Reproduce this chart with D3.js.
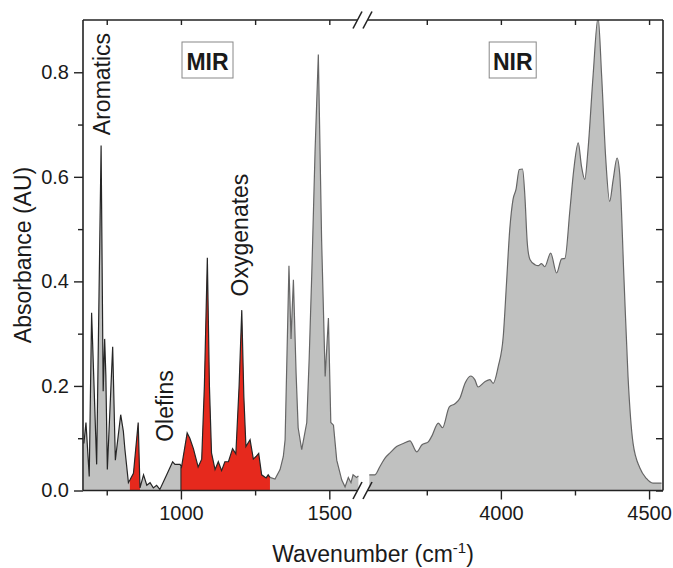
<!DOCTYPE html>
<html>
<head>
<meta charset="utf-8">
<script src="https://cdn.jsdelivr.net/npm/d3@7"></script>
<style>
body { margin: 0; background: #fff; }
text { font-family: "Liberation Sans", Arial, sans-serif; fill: #1a1a1a; }
</style>
</head>
<body>
<div id="chart"></div>
<script>

// mid-IR part of the spectrum (left of the axis break)
var mirWavenumber = [673, 680, 691, 699, 716, 731, 738, 743, 747, 752, 770, 779, 797, 806, 811, 823,
	828, 840, 856, 862, 874, 885, 896, 907, 918, 929, 952, 972, 980, 997,
	1002, 1021, 1030, 1042, 1058, 1070, 1079, 1089, 1096, 1103, 1115, 1126, 1137, 1148, 1160,
	1174, 1185, 1196, 1205, 1212, 1219, 1233, 1244, 1253, 1262, 1272, 1287, 1294, 1300,
	1317, 1334, 1345, 1351, 1356, 1364, 1371, 1379, 1388, 1395, 1407, 1424, 1432, 1441,
	1452, 1463, 1474, 1486, 1497, 1505, 1514, 1525, 1542, 1553, 1564, 1573, 1580, 1592, 1598];
var mirAbsorbance = [0.09, 0.13, 0.027, 0.34, 0.05, 0.66, 0.19, 0.29, 0.22, 0.04, 0.275, 0.058, 0.145, 0.113, 0.08, 0.015,
	0.02, 0.033, 0.13, 0.005, 0.03, 0.01, 0.015, 0.005, 0.01, 0.002, 0.03, 0.055, 0.05, 0.05,
	0.045, 0.11, 0.1, 0.08, 0.045, 0.06, 0.2, 0.445, 0.2, 0.072, 0.04, 0.055, 0.038, 0.055, 0.055,
	0.08, 0.07, 0.2, 0.345, 0.18, 0.084, 0.097, 0.06, 0.065, 0.071, 0.03, 0.024, 0.03, 0.025,
	0.022, 0.04, 0.065, 0.097, 0.225, 0.43, 0.29, 0.403, 0.225, 0.12, 0.078, 0.13, 0.25, 0.417,
	0.65, 0.834, 0.48, 0.218, 0.33, 0.13, 0.125, 0.058, 0.02, 0.007, 0.025, 0.015, 0.03, 0.025, 0.028];

// near-IR part (right of the break)
var nirWavenumber = [3556, 3575, 3592, 3609, 3626, 3648, 3671, 3693, 3716, 3733, 3755, 3766, 3789, 3803,
	3826, 3845, 3862, 3879, 3898, 3912, 3923, 3946, 3963, 3974, 3991, 4008, 4019, 4030, 4041,
	4051, 4062, 4073, 4081, 4089, 4098, 4115, 4126, 4137, 4148, 4168, 4188, 4205, 4216, 4233,
	4246, 4261, 4272, 4283, 4294, 4311, 4328, 4340, 4354, 4367, 4379, 4392, 4401, 4415, 4429,
	4446, 4469, 4491, 4513, 4542];
var nirAbsorbance = [0.03, 0.03, 0.046, 0.062, 0.072, 0.084, 0.09, 0.095, 0.074, 0.087, 0.093, 0.103, 0.129, 0.12,
	0.16, 0.166, 0.177, 0.205, 0.219, 0.212, 0.198, 0.208, 0.212, 0.205, 0.237, 0.295, 0.397, 0.5, 0.557,
	0.576, 0.614, 0.615, 0.563, 0.474, 0.442, 0.432, 0.43, 0.434, 0.428, 0.454, 0.416, 0.443, 0.444, 0.537,
	0.614, 0.665, 0.62, 0.595, 0.652, 0.793, 0.905, 0.793, 0.633, 0.553, 0.595, 0.636, 0.605, 0.41, 0.218,
	0.09, 0.043, 0.023, 0.014, 0.014];

// bands filled in red
var redRanges = [[828, 862], [1000, 1300]];

var yTicks = [0, 0.2, 0.4, 0.6, 0.8];
var yMinorTicks = [0.1, 0.3, 0.5, 0.7];
var mirTicks = [1000, 1500];
var mirMinorTicks = [750, 1250];
var nirTicks = [4000, 4500];
var nirMinorTicks = [3750, 4250];

var bandLabels = ["Aromatics", "Olefins", "Oxygenates"];
var regionLabels = ["MIR", "NIR"];

var width = 673;
var height = 568;
var plotLeft = 83, plotRight = 663, plotTop = 20, plotBottom = 490.5;
var break1 = 357.5, break2 = 367.5;

var svg = d3.select("#chart")
	.append("svg")
	.attr("width", width)
	.attr("height", height);

var xMir = d3.scaleLinear().domain([670, 1598]).range([plotLeft, 358.4]);
var xNir = d3.scaleLinear().domain([3556, 4547]).range([369.3, plotRight]);
var y = d3.scaleLinear().domain([0, 0.9]).range([plotBottom, plotTop]);

var mirData = mirWavenumber.map(function(d, i) { return {w: d, a: mirAbsorbance[i]}; });
var nirData = nirWavenumber.map(function(d, i) { return {w: d, a: nirAbsorbance[i]}; });

svg.append("clipPath").attr("id", "plotClip")
	.append("rect")
	.attr("x", plotLeft).attr("y", plotTop)
	.attr("width", plotRight - plotLeft).attr("height", plotBottom - plotTop);

var plot = svg.append("g").attr("clip-path", "url(#plotClip)");

/************************************** spectrum ***************************************/

var mirArea = d3.area()
	.x(function(d) { return xMir(d.w); })
	.y0(y(0))
	.y1(function(d) { return y(d.a); });
var mirLine = d3.line()
	.x(function(d) { return xMir(d.w); })
	.y(function(d) { return y(d.a); });
var nirArea = d3.area()
	.curve(d3.curveMonotoneX)
	.x(function(d) { return xNir(d.w); })
	.y0(y(0))
	.y1(function(d) { return y(d.a); });
var nirLine = d3.line()
	.curve(d3.curveMonotoneX)
	.x(function(d) { return xNir(d.w); })
	.y(function(d) { return y(d.a); });

plot.append("path").datum(mirData).attr("d", mirArea).style("fill", "#c0c1c0");
plot.append("path").datum(nirData).attr("d", nirArea).style("fill", "#c0c1c0");

// red bands: same area, clipped to the band
redRanges.forEach(function(r, i) {
	svg.append("clipPath").attr("id", "red" + i)
		.append("rect")
		.attr("x", xMir(r[0])).attr("y", plotTop)
		.attr("width", xMir(r[1]) - xMir(r[0])).attr("height", plotBottom - plotTop);
	plot.append("path").datum(mirData)
		.attr("d", mirArea)
		.attr("clip-path", "url(#red" + i + ")")
		.style("fill", "#e6291d");
});

// edge of the big red band at 1000
var edge = mirData.filter(function(d) { return d.w == 1002; })[0];
plot.append("line")
	.attr("x1", xMir(1000)).attr("x2", xMir(1000))
	.attr("y1", y(0)).attr("y2", y(edge.a))
	.style("stroke", "#222").style("stroke-width", 1);

plot.append("path")
	.datum(mirData.filter(function(d) { return d.w <= 1300; }))
	.attr("d", mirLine)
	.style("fill", "none").style("stroke", "#262626").style("stroke-width", 1.2);
plot.append("path")
	.datum(mirData.filter(function(d) { return d.w >= 1300; }))
	.attr("d", mirLine)
	.style("fill", "none").style("stroke", "#666").style("stroke-width", 1.2);
plot.append("path")
	.datum(nirData)
	.attr("d", nirLine)
	.style("fill", "none").style("stroke", "#666").style("stroke-width", 1.2);

/************************************** axes ***************************************/

function styleAxis(g) {
	g.select(".domain").remove();
	g.selectAll("line").style("stroke", "#222").style("stroke-width", 1.4);
	g.selectAll("text").style("font-size", "20px").style("fill", "#1a1a1a");
}

// left
svg.append("g").attr("transform", "translate(" + plotLeft + ",0)")
	.call(d3.axisLeft(y).tickValues(yTicks).tickSize(9).tickPadding(5).tickFormat(d3.format(".1f")))
	.call(styleAxis);
svg.append("g").attr("transform", "translate(" + plotLeft + ",0)")
	.call(d3.axisLeft(y).tickValues(yMinorTicks).tickSize(5).tickFormat(""))
	.call(styleAxis);
// right, ticks inward
svg.append("g").attr("transform", "translate(" + plotRight + ",0)")
	.call(d3.axisLeft(y).tickValues(yTicks.concat(yMinorTicks)).tickSize(7).tickFormat(""))
	.call(styleAxis);

// bottom and top for both parts
[[xMir, mirTicks, mirMinorTicks], [xNir, nirTicks, nirMinorTicks]].forEach(function(p) {
	svg.append("g").attr("transform", "translate(0," + plotBottom + ")")
		.call(d3.axisBottom(p[0]).tickValues(p[1]).tickSize(9).tickPadding(6).tickFormat(d3.format("d")))
		.call(styleAxis);
	svg.append("g").attr("transform", "translate(0," + plotBottom + ")")
		.call(d3.axisBottom(p[0]).tickValues(p[2]).tickSize(5).tickFormat(""))
		.call(styleAxis);
	svg.append("g").attr("transform", "translate(0," + plotTop + ")")
		.call(d3.axisBottom(p[0]).tickValues(p[1].concat(p[2])).tickSize(5).tickFormat(""))
		.call(styleAxis);
});

// frame with gaps at the break
var frame = svg.append("g").style("stroke", "#222").style("stroke-width", 1.6).style("fill", "none");
frame.append("line").attr("x1", plotLeft).attr("x2", plotLeft).attr("y1", plotTop).attr("y2", plotBottom);
frame.append("line").attr("x1", plotRight).attr("x2", plotRight).attr("y1", plotTop).attr("y2", plotBottom);
[plotTop, plotBottom].forEach(function(yy) {
	frame.append("line").attr("x1", plotLeft).attr("x2", break1).attr("y1", yy).attr("y2", yy);
	frame.append("line").attr("x1", break2).attr("x2", plotRight).attr("y1", yy).attr("y2", yy);
	[break1, break2].forEach(function(bx) {
		frame.append("line")
			.attr("x1", bx - 4.5).attr("y1", yy + 8.5)
			.attr("x2", bx + 4.5).attr("y2", yy - 8.5);
	});
});

/************************************** labels ***************************************/

svg.append("text")
	.attr("transform", "translate(31,255) rotate(-90)")
	.attr("text-anchor", "middle")
	.style("font-size", "23px")
	.text("Absorbance (AU)");

var xTitle = svg.append("text")
	.attr("x", 373).attr("y", 562)
	.attr("text-anchor", "middle")
	.style("font-size", "23px");
xTitle.append("tspan").text("Wavenumber (cm");
xTitle.append("tspan").attr("dy", -9).style("font-size", "15px").text("-1");
xTitle.append("tspan").attr("dy", 9).text(")");

var bandPos = [[110, 84], [173, 406], [248, 235]];
bandLabels.forEach(function(t, i) {
	svg.append("text")
		.attr("transform", "translate(" + bandPos[i][0] + "," + bandPos[i][1] + ") rotate(-90)")
		.attr("text-anchor", "middle")
		.style("font-size", "23px")
		.text(t);
});

var regionPos = [[207.5, 42, 51], [512.7, 42, 47]];
regionLabels.forEach(function(t, i) {
	svg.append("rect")
		.attr("x", regionPos[i][0] - regionPos[i][2] / 2).attr("y", regionPos[i][1])
		.attr("width", regionPos[i][2]).attr("height", 36)
		.style("fill", "#fff").style("stroke", "#888").style("stroke-width", 1);
	svg.append("text")
		.attr("x", regionPos[i][0]).attr("y", regionPos[i][1] + 28)
		.attr("text-anchor", "middle")
		.style("font-size", "23px").style("font-weight", "bold")
		.text(t);
});

</script>
</body>
</html>
